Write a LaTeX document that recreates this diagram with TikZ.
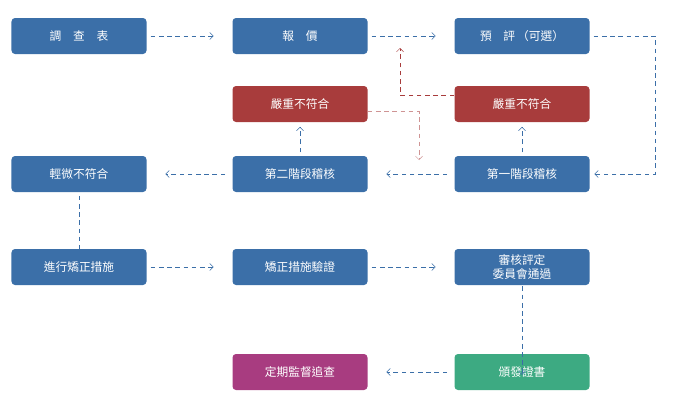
\documentclass[tikz,border=0pt]{standalone}
\usepackage{fontspec}
\newfontfamily\cjk{Noto Sans CJK TC}
\usetikzlibrary{arrows.meta}
\definecolor{boxblue}{HTML}{3B6FA8}
\definecolor{boxred}{HTML}{A83C3C}
\definecolor{boxgreen}{HTML}{3DAA82}
\definecolor{boxpurple}{HTML}{A83C80}
\definecolor{lineblue}{HTML}{3B6FA8}

\begin{document}
\begin{tikzpicture}[x=0.03cm,y=-0.03cm,
    box/.style={rectangle, rounded corners=3pt, fill=boxblue, text=white,
        minimum width=4.05cm, minimum height=1.08cm, align=center,
        font=\cjk\fontsize{10}{12}\selectfont, inner sep=0pt},
    flow/.style={draw=lineblue, dashed, dash pattern=on 4pt off 3pt, thin,
        -{Straight Barb[length=3pt,width=6pt]}},
    back/.style={flow, draw=boxred},
    back2/.style={flow, draw=boxred!55}]
    \useasboundingbox (0,0) rectangle (678,413);

    % row 1
    \node[box] (survey) at (79,36) {調\quad 查\quad 表};
    \node[box] (quote) at (300,36) {報\quad 價};
    \node[box] (pre) at (522,36) {預\quad 評\,（可選）};

    % row 2
    \node[box, fill=boxred] (majortwo) at (300,104) {嚴重不符合};
    \node[box, fill=boxred] (majorone) at (522,104) {嚴重不符合};

    % row 3
    \node[box] (minor) at (79,174) {輕微不符合};
    \node[box] (stagetwo) at (300,174) {第二階段稽核};
    \node[box] (stageone) at (522,174) {第一階段稽核};

    % row 4
    \node[box] (correct) at (79,267) {進行矯正措施};
    \node[box] (verify) at (300,267) {矯正措施驗證};
    \node[box] (board) at (522,267) {審核評定\\委員會通過};

    % row 5
    \node[box, fill=boxpurple] (watch) at (300,372) {定期監督追查};
    \node[box, fill=boxgreen] (cert) at (522,372) {頒發證書};

    \coordinate (prer) at (655,36);
    \coordinate (oner) at (655,174);
    \coordinate (q1) at (400,95);
    \coordinate (q2) at (400,48);
    \coordinate (r1) at (419,111);
    \coordinate (r2) at (419,160);

    \draw[flow] (survey.east) ++(4,0) -- ([xshift=-16]quote.west);
    \draw[flow] (quote.east) ++(4,0) -- ([xshift=-16]pre.west);
    \draw[flow] (pre.east) ++(4,0) -- (prer) -- (oner) -- ([xshift=4]stageone.east);
    \draw[flow] ([xshift=-6]stageone.west) -- ([xshift=16]stagetwo.east);
    \draw[flow] ([xshift=-6]stagetwo.west) -- ([xshift=16]minor.east);
    \draw[flow] ([yshift=-4]stageone.north) -- ([yshift=-4]majorone.south);
    \draw[flow] ([yshift=-4]stagetwo.north) -- ([yshift=-4]majortwo.south);
    \draw[back] (majorone.west |- q1) -- (q1) -- (q2);
    \draw[back2] (majortwo.east |- r1) -- (r1) -- (r2);
    \draw[flow] ([yshift=4]minor.south) -- ([yshift=-16]correct.north);
    \draw[flow] (correct.east) ++(4,0) -- ([xshift=-16]verify.west);
    \draw[flow] (verify.east) ++(4,0) -- ([xshift=-16]board.west);
    \draw[flow] ([yshift=6]board.south) -- ([yshift=-18]cert.north);
    \draw[flow] ([xshift=-6]cert.west) -- ([xshift=16]watch.east);
\end{tikzpicture}
\end{document}
